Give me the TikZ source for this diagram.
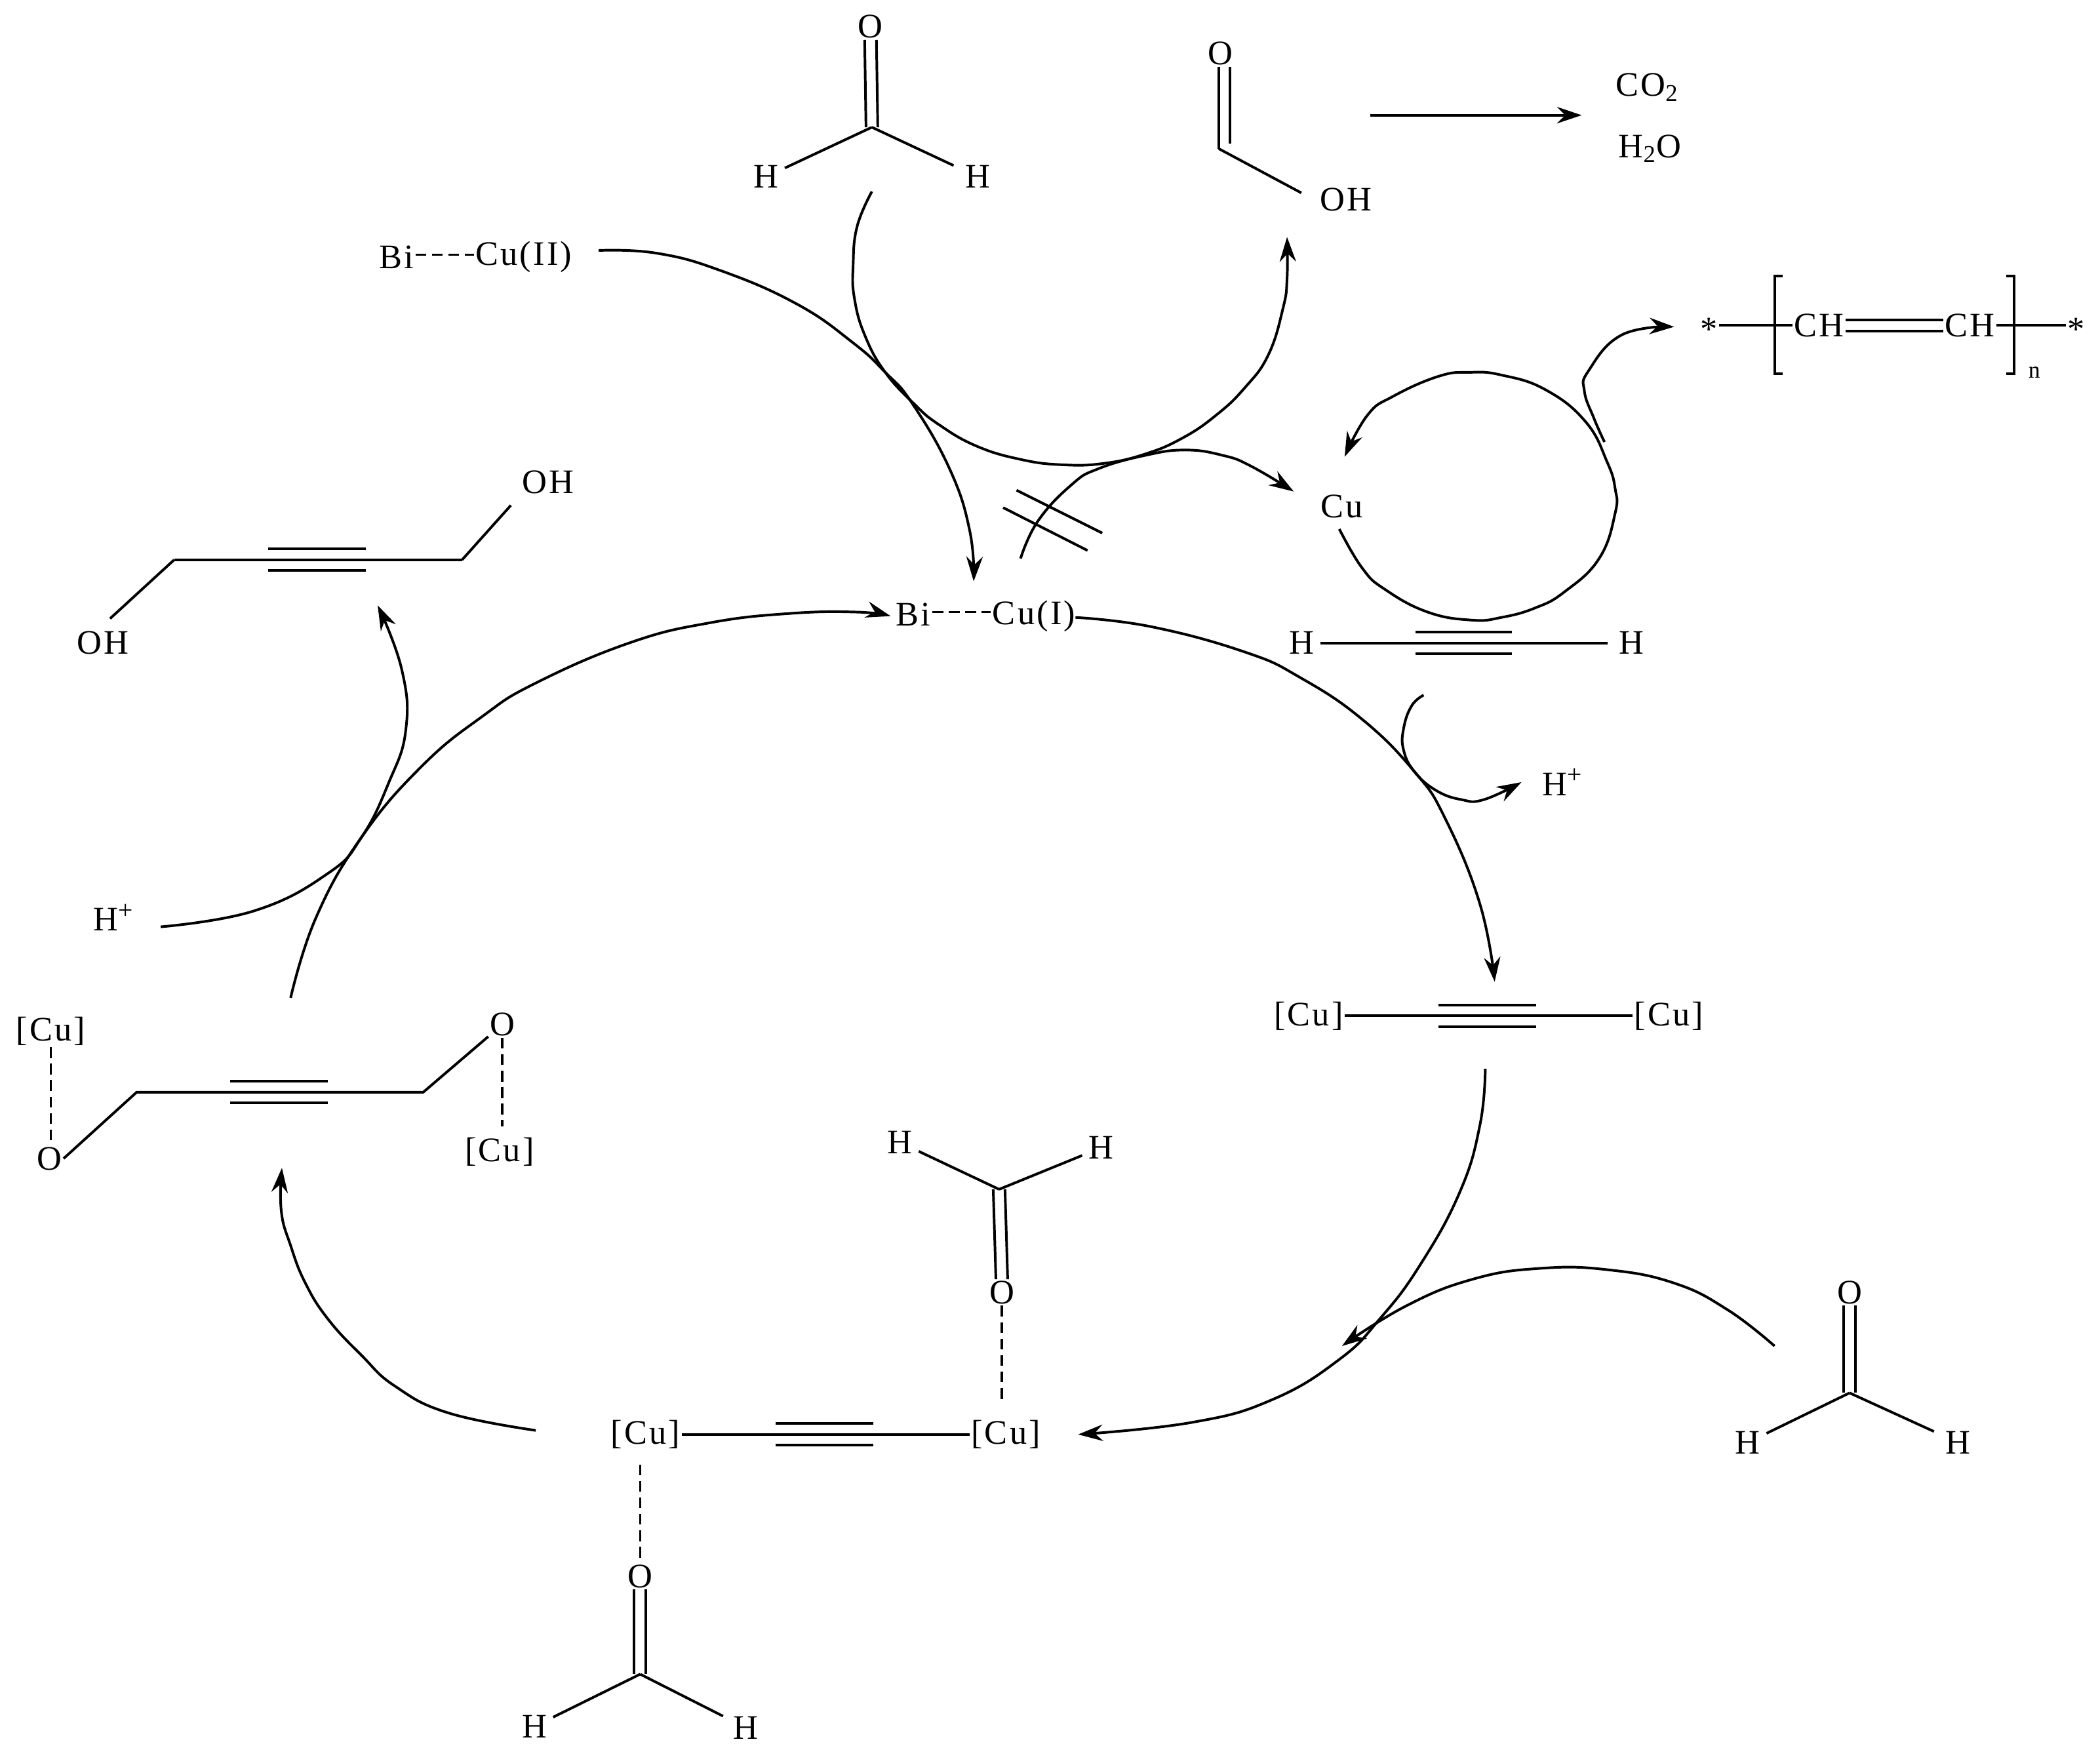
\documentclass[tikz,border=0pt]{standalone}
\usepackage{fontspec}
\usepackage{tikz}
\usetikzlibrary{arrows.meta}
\setmainfont{Liberation Serif}[LetterSpace=6]

\tikzset{
    atom/.style={inner sep=2.5pt, font=\fontsize{14.6}{17}\selectfont},
    tight/.style={atom, inner sep=0.5pt},
    bond/.style={line width=1.1pt},
    link/.style={line width=0.9pt, dash pattern=on 4.6pt off 2.4pt},
    arr/.style={line width=1.1pt, -{Stealth[length=10.5pt, width=7pt, inset=3.5pt]}},
    curve/.style={smooth, tension=0.75}
}

\newcommand{\hplus}{H\textsuperscript{\fontsize{11}{12}\selectfont +}}

\begin{document}
\begin{tikzpicture}[x=0.2mm, y=-0.2mm]
            \useasboundingbox (0, 0) rectangle (1568, 1303.6);

            % formaldehyde, top
            \coordinate (c1) at (651, 95);
            \node[tight] (o1) at (650, 20) {O};
            \node[atom] (h1) at (572, 132) {H};
            \node[atom] (h2) at (730, 132) {H};
            \draw[bond] (c1) -- (h1);
            \draw[bond, shorten >=2.5pt] (c1) -- (h2);
            \draw[bond] ([xshift=-2.5pt]c1) -- ([xshift=-2.5pt]o1.south);
            \draw[bond] ([xshift=2.5pt]c1) -- ([xshift=2.5pt]o1.south);

            % formic acid and its products
            \coordinate (c2) at (910, 111);
            \coordinate (c2a) at (918.5, 107);
            \node[tight] (o2) at (911, 40) {O};
            \node[atom] (oh1) at (1005, 149) {OH};
            \node[atom] (co2) at (1230, 65) {CO\textsubscript{2}};
            \node[atom] (h2o) at (1232, 111) {H\textsubscript{2}O};
            \coordinate (w1) at (1023, 86);
            \coordinate (w2) at (1181, 86);
            \draw[bond, shorten >=6pt] (c2) -- (oh1.west);
            \draw[bond] (c2) -- (c2 |- o2.south);
            \draw[bond] (c2a) -- (c2a |- o2.south);
            \draw[arr] (w1) -- (w2);

            % Bi--Cu pairs
            \node[tight] (bi1) at (296, 192) {Bi};
            \node[tight] (cu1) at (391, 192) {Cu(II)};
            \node[tight] (bi2) at (682, 459) {Bi};
            \node[tight] (cu2) at (772, 460) {Cu(I)};
            \node[atom] (cu0) at (1002, 378) {Cu};
            \draw[link] (bi1.east |- 0, 190) -- (cu1.west |- 0, 190);
            \draw[link] (bi2.east |- 0, 457) -- (cu2.west |- 0, 457);

            % acetylene
            \node[atom] (h3) at (972, 480) {H};
            \node[atom] (h4) at (1218, 480) {H};
            \coordinate (t1) at (1057, 480);
            \coordinate (t2) at (1129, 480);
            \node[atom] (h5) at (1167, 584) {\hplus};
            \draw[bond, shorten >=2pt] (h3) -- (h4);
            \draw[bond] ([yshift=4.6pt]t1) -- ([yshift=4.6pt]t2);
            \draw[bond] ([yshift=-4.6pt]t1) -- ([yshift=-4.6pt]t2);

            % polymer
            \node[tight] (s1) at (1276, 246) {*};
            \node[tight] (s2) at (1550, 246) {*};
            \node[tight] (ch1) at (1358, 243) {CH};
            \node[tight] (ch2) at (1471, 243) {CH};
            \node[atom, font=\fontsize{10}{12}\selectfont] (n1) at (1519, 278) {n};
            \draw[bond] (s1.east |- ch1.west) -- (ch1.west);
            \draw[bond] (ch2.east) -- (s2.west |- ch2.east);
            \draw[bond] ([yshift=2.4pt]ch1.east) -- ([yshift=2.4pt]ch2.west);
            \draw[bond] ([yshift=-2.4pt]ch1.east) -- ([yshift=-2.4pt]ch2.west);
            \draw[bond] (1331, 206) -- (1325, 206) -- (1325, 279) -- (1331, 279);
            \draw[bond] (1498, 206) -- (1504, 206) -- (1504, 279) -- (1498, 279);

            % butynediol
            \node[atom] (oh2) at (409, 360) {OH};
            \node[atom] (oh3) at (77, 480) {OH};
            \coordinate (c3) at (345, 418);
            \coordinate (c4) at (130, 418);
            \coordinate (t3) at (200, 418);
            \coordinate (t4) at (273, 418);
            \node[atom] (h6) at (85, 685) {\hplus};
            \draw[bond] (c4) -- (c3);
            \draw[bond, shorten >=4pt] (c4) -- (oh3.north);
            \draw[bond, shorten >=3pt] (c3) -- (oh2.south west);
            \draw[bond] ([yshift=4.6pt]t3) -- ([yshift=4.6pt]t4);
            \draw[bond] ([yshift=-4.6pt]t3) -- ([yshift=-4.6pt]t4);

            % bound butynediol
            \node[tight] (cu3) at (38, 770) {[Cu]};
            \node[tight] (cu4) at (373, 860) {[Cu]};
            \node[tight] (o3) at (37, 865) {O};
            \node[tight] (o4) at (375, 765) {O};
            \coordinate (c5) at (102, 815.5);
            \coordinate (c6) at (316, 815.5);
            \coordinate (t5) at (172, 815.5);
            \coordinate (t6) at (245, 815.5);
            \draw[bond] (o3.east) -- (c5) -- (c6) -- (o4);
            \draw[bond] ([yshift=4.6pt]t5) -- ([yshift=4.6pt]t6);
            \draw[bond] ([yshift=-4.6pt]t5) -- ([yshift=-4.6pt]t6);
            \draw[link] (cu3.south) -- (cu3.south |- o3.north);
            \draw[link, shorten >=4pt] (o4.south) -- (o4.south |- cu4.north);

            % copper acetylide
            \node[tight] (cu5) at (977, 758.5) {[Cu]};
            \node[tight] (cu6) at (1246, 758.5) {[Cu]};
            \coordinate (t7) at (1074, 758.5);
            \coordinate (t8) at (1147, 758.5);
            \draw[bond] (cu5) -- (cu6);
            \draw[bond] ([yshift=4.6pt]t7) -- ([yshift=4.6pt]t8);
            \draw[bond] ([yshift=-4.6pt]t7) -- ([yshift=-4.6pt]t8);

            % formaldehyde, right
            \coordinate (c7) at (1381, 1040);
            \node[tight] (o5) at (1381, 965) {O};
            \node[atom] (h7) at (1305, 1077) {H};
            \node[atom] (h8) at (1462, 1077) {H};
            \draw[bond] (c7) -- (h7);
            \draw[bond, shorten >=2.5pt] (c7) -- (h8);
            \draw[bond] ([xshift=-2.5pt]c7) -- ([xshift=-2.5pt]o5.south);
            \draw[bond] ([xshift=2.5pt]c7) -- ([xshift=2.5pt]o5.south);

            % copper acetylide with two formaldehydes
            \node[tight] (cu7) at (482, 1071) {[Cu]};
            \node[tight] (cu8) at (751, 1071) {[Cu]};
            \coordinate (t9) at (579, 1071);
            \coordinate (t10) at (652, 1071);
            \draw[bond] (cu7) -- (cu8);
            \draw[bond] ([yshift=4.6pt]t9) -- ([yshift=4.6pt]t10);
            \draw[bond] ([yshift=-4.6pt]t9) -- ([yshift=-4.6pt]t10);

            \coordinate (c8) at (746, 888);
            \node[tight] (o6) at (748, 965) {O};
            \node[atom] (h9) at (672, 853) {H};
            \node[atom] (h10) at (822, 857) {H};
            \draw[bond] (c8) -- (h9);
            \draw[bond] (c8) -- (h10);
            \draw[bond] ([xshift=-2.5pt]c8) -- ([xshift=-2.5pt]o6.north);
            \draw[bond] ([xshift=2.5pt]c8) -- ([xshift=2.5pt]o6.north);
            \draw[link, shorten >=8pt] (o6) -- (cu8.north -| o6);

            \coordinate (c9) at (478, 1250);
            \node[tight] (o7) at (478, 1177) {O};
            \node[atom] (h11) at (399, 1289) {H};
            \node[atom] (h12) at (557, 1290) {H};
            \draw[bond] (c9) -- (h11);
            \draw[bond, shorten >=2pt] (c9) -- (h12);
            \draw[bond] ([xshift=-2.5pt]c9) -- ([xshift=-2.5pt]o7.south);
            \draw[bond] ([xshift=2.5pt]c9) -- ([xshift=2.5pt]o7.south);
            \draw[link, shorten <=6pt] (cu7.south -| o7) -- (o7);

            % slash marks
            \coordinate (k1) at (759, 366);
            \coordinate (k2) at (823, 398);
            \coordinate (k3) at (749, 379);
            \coordinate (k4) at (812, 411);
            \draw[bond] (k1) -- (k2);
            \draw[bond] (k3) -- (k4);

            % free ends of the curved arrows
            \coordinate (a1) at (651, 143);
            \coordinate (a2) at (961, 177);
            \coordinate (b1) at (447, 187);
            \coordinate (b2) at (727, 434);
            \coordinate (d1) at (762, 417);
            \coordinate (d2) at (966, 367);
            \coordinate (e1) at (1000, 395);
            \coordinate (e2) at (1004, 341);
            \coordinate (f1) at (1198, 330);
            \coordinate (f2) at (1250, 244);
            \coordinate (g1) at (1063, 519);
            \coordinate (g2) at (1136, 584);
            \coordinate (i1) at (803, 461);
            \coordinate (i2) at (1116, 733);
            \coordinate (j1) at (1109, 798);
            \coordinate (j2) at (805, 1071);
            \coordinate (l1) at (1325, 1005);
            \coordinate (l2) at (1002, 1005);
            \coordinate (m1) at (400, 1068);
            \coordinate (m2) at (210.5, 872);
            \coordinate (p1) at (217, 745);
            \coordinate (p2) at (665, 460);
            \coordinate (q1) at (120, 692);
            \coordinate (q2) at (282, 452);

            \draw[arr] plot[curve] coordinates {(a1) (640, 169) (637, 198) (638, 223) (646, 251) (661, 278) (683, 302) (701, 317) (729, 333) (762, 343) (793, 347) (824, 346) (855, 339) (883, 327) (908, 310) (929, 290) (947, 265) (958, 230) (961, 208) (a2)};
            \draw[arr] plot[curve] coordinates {(b1) (490, 189) (538, 202) (595, 227) (637, 256) (661, 278) (681, 301) (709, 350) (724, 396) (b2)};
            \draw[arr] plot[curve] coordinates {(d1) (775, 389) (800, 362) (820, 350) (855, 340) (885, 336) (913, 340) (934, 348) (d2)};
            \draw[arr] plot[curve] coordinates {(e1) (1017, 424) (1034, 440) (1066, 457) (1099, 463) (1121, 461) (1146, 454) (1168, 442) (1194, 417) (1206, 383) (1206, 365) (1200, 345) (1184, 315) (1154, 291) (1121, 280) (1097, 278) (1074, 281) (1040, 296) (1021, 310) (e2)};
            \draw[arr] plot[curve] coordinates {(f1) (1190, 312) (1183, 292) (1186, 277) (1211, 250) (f2)};
            \draw[arr] plot[curve] coordinates {(g1) (1054, 527) (1048, 544) (1048, 560) (1056, 576) (1072, 590) (1091, 597) (1108, 597) (g2)};
            \draw[arr] plot[curve] coordinates {(i1) (860, 468) (930, 487) (971, 506) (1017, 537) (1056, 576) (1079, 611) (1105, 675) (i2)};
            \draw[arr] plot[curve] coordinates {(j1) (1105, 840) (1090, 890) (1060, 945) (1030, 985) (1000, 1015) (950, 1045) (890, 1062) (j2)};
            \draw[arr] plot[curve] coordinates {(l1) (1290, 978) (1250, 958) (1200, 948) (1150, 947) (1100, 955) (1050, 975) (l2)};
            \draw[arr] plot[curve] coordinates {(m1) (335, 1055) (295, 1035) (270, 1012) (245, 985) (228, 958) (217, 930) (210, 904) (m2)};
            \draw[arr] plot[curve] coordinates {(p1) (236, 685) (270, 625) (315, 572) (360, 535) (400, 510) (470, 480) (530, 465) (590, 458) (640, 457) (p2)};
            \draw[arr] plot[curve] coordinates {(q1) (190, 680) (245, 652) (270, 625) (290, 585) (303, 545) (300, 500) (q2)};
        \end{tikzpicture}
\end{document}
